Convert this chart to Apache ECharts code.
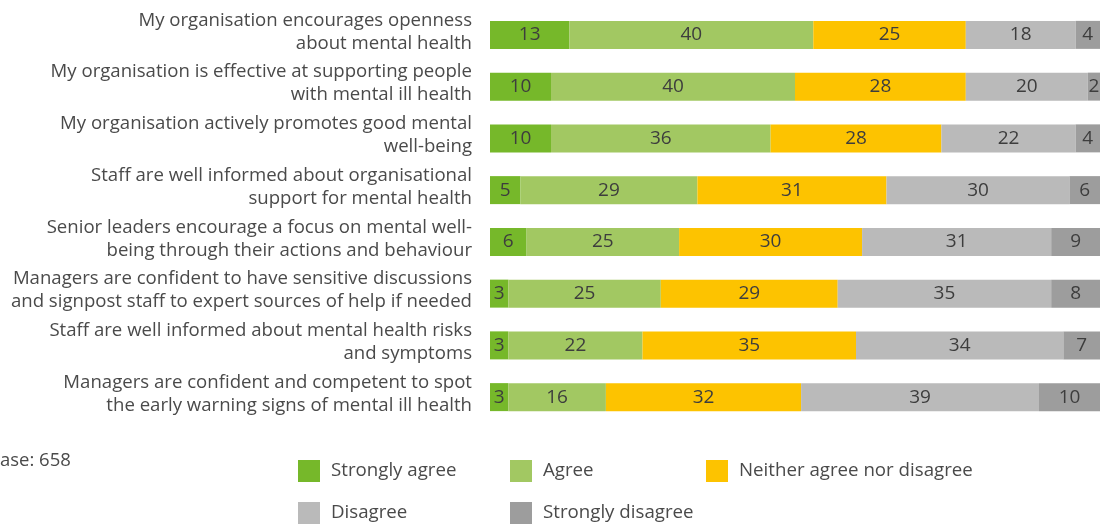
<!DOCTYPE html>
<html>
<head>
<meta charset="utf-8">
<script src="https://cdn.jsdelivr.net/npm/echarts@6/dist/echarts.min.js"></script>
<style>
  html, body { margin: 0; padding: 0; background: #fff; }
  #chart { width: 1103px; height: 524px; }
</style>
</head>
<body>
<div id="chart"></div>
<script>
// Survey statements (top to bottom)
const statements = [
  'My organisation encourages openness\nabout mental health',
  'My organisation is effective at supporting people\nwith mental ill health',
  'My organisation actively promotes good mental\nwell-being',
  'Staff are well informed about organisational\nsupport for mental health',
  'Senior leaders encourage a focus on mental well-\nbeing through their actions and behaviour',
  'Managers are confident to have sensitive discussions\nand signpost staff to expert sources of help if needed',
  'Staff are well informed about mental health risks\nand symptoms',
  'Managers are confident and competent to spot\nthe early warning signs of mental ill health'
];

// Response shares (%) per statement
const stronglyAgree    = [13, 10, 10, 5, 6, 3, 3, 3];
const agree            = [40, 40, 36, 29, 25, 25, 22, 16];
const neither          = [25, 28, 28, 31, 30, 29, 35, 32];
const disagree         = [18, 20, 22, 30, 31, 35, 34, 39];
const stronglyDisagree = [4, 2, 4, 6, 9, 8, 7, 10];

const responseNames = ['Strongly agree', 'Agree', 'Neither agree nor disagree', 'Disagree', 'Strongly disagree'];
const responseValues = [stronglyAgree, agree, neither, disagree, stronglyDisagree];
const responseColors = ['#76b82a', '#a2c862', '#fdc300', '#bababa', '#9d9d9d'];

const FONT = '"Open Sans", sans-serif';
const TEXT = '#4a4a4a';

const chart = echarts.init(document.getElementById('chart'), null, { renderer: 'canvas' });

const series = responseNames.map((name, i) => ({
  name: name,
  type: 'bar',
  stack: 'total',
  barWidth: 28,
  xAxisIndex: 0,
  yAxisIndex: 0,
  data: responseValues[i],
  itemStyle: { color: responseColors[i] },
  label: {
    show: true,
    position: 'inside',
    color: '#3d3d3d',
    fontFamily: FONT,
    fontSize: 19
  },
  emphasis: { disabled: true }
}));

// One legend block per response, laid out in two rows
const legendSpots = [
  { left: 293, top: 455 },
  { left: 505, top: 455 },
  { left: 701, top: 455 },
  { left: 293, top: 497 },
  { left: 505, top: 497 }
];
const legends = responseNames.map((name, i) => ({
  data: [name],
  left: legendSpots[i].left,
  top: legendSpots[i].top,
  itemWidth: 22,
  itemHeight: 22,
  itemGap: 0,
  icon: 'rect',
  selectedMode: false,
  textStyle: { color: TEXT, fontFamily: FONT, fontSize: 18.7, padding: [0, 0, 0, 6] }
}));

chart.setOption({
  animation: false,
  backgroundColor: '#ffffff',
  grid: [
    // bars
    { left: 490, top: 9, width: 610, height: 414, containLabel: false },
    // statement labels, set slightly above the bar centres
    { left: 490, top: 6, width: 610, height: 414, containLabel: false }
  ],
  xAxis: [
    { type: 'value', gridIndex: 0, min: 0, max: 100, show: false },
    { type: 'value', gridIndex: 1, min: 0, max: 100, show: false }
  ],
  yAxis: [
    {
      type: 'category',
      gridIndex: 0,
      inverse: true,
      data: statements,
      axisLine: { show: false },
      axisTick: { show: false },
      splitLine: { show: false },
      axisLabel: { show: false }
    },
    {
      type: 'category',
      gridIndex: 1,
      inverse: true,
      data: statements,
      axisLine: { show: false },
      axisTick: { show: false },
      splitLine: { show: false },
      axisLabel: {
        interval: 0,
        showMinLabel: true,
        showMaxLabel: true,
        hideOverlap: false,
        margin: 18,
        align: 'right',
        color: TEXT,
        fontFamily: FONT,
        fontSize: 18.6,
        lineHeight: 23
      }
    }
  ],
  legend: legends,
  graphic: [{
    type: 'text',
    left: -12,
    top: 451,
    style: { text: 'Base: 658', fill: TEXT, font: '18.5px ' + FONT }
  }],
  series: series
});
</script>
</body>
</html>
